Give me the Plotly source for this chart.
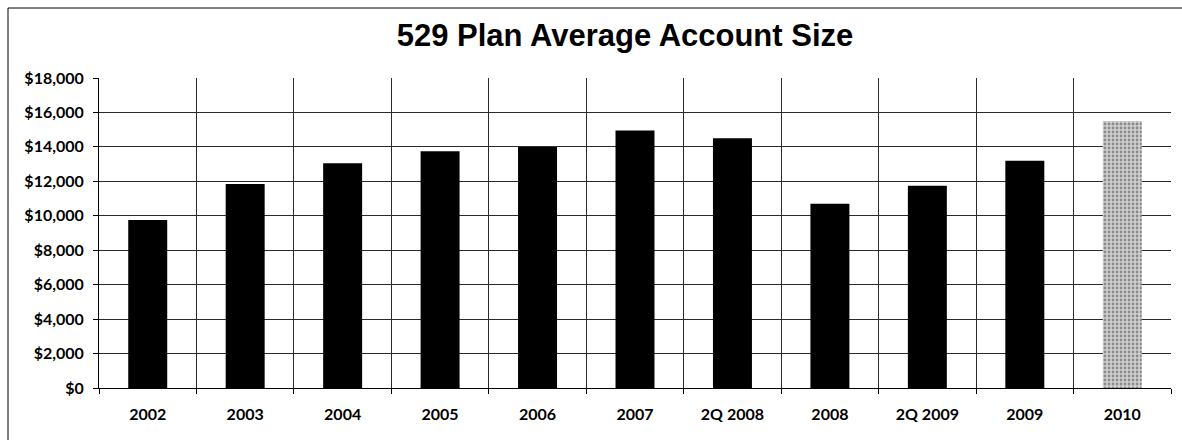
import plotly.graph_objects as go

# Average 529 plan account size by period
periods = ["2002", "2003", "2004", "2005", "2006", "2007",
           "2Q 2008", "2008", "2Q 2009", "2009", "2010"]
avg_account_size = [9750, 11850, 13050, 13750, 14000, 14950,
                    14500, 10700, 11750, 13200, 15500]
# last period is a projection, drawn with a stippled fill
is_projection = [False] * 10 + [True]

y_ticks = [0, 2000, 4000, 6000, 8000, 10000, 12000, 14000, 16000, 18000]
y_tick_labels = ["$0", "$2,000", "$4,000", "$6,000", "$8,000", "$10,000",
                 "$12,000", "$14,000", "$16,000", "$18,000"]

W, H = 1182, 440
ML, MR, MT, MB = 99, 11, 78, 52

bar_colors = ["#d0d0d0" if p else "black" for p in is_projection]
pattern_shapes = ["." if p else "" for p in is_projection]

fig = go.Figure(
    go.Bar(
        x=periods,
        y=avg_account_size,
        width=0.4,
        marker=dict(
            color=bar_colors,
            line=dict(width=0),
            pattern=dict(
                shape=pattern_shapes,
                fgcolor="#444444",
                bgcolor="#dcdcdc",
                size=4,
                solidity=0.4,
                fillmode="overlay",
            ),
        ),
        hoverinfo="x+y",
    )
)

plot_w = W - ML - MR
plot_h = H - MT - MB


def px_to_paper_x(px):
    return (px - ML) / plot_w


def px_to_paper_y(py):
    return (H - MB - py) / plot_h


x_tick_font = dict(family="Lato", size=16, color="black", weight="bold")
y_tick_font = dict(family="Lato", size=16, color="black", weight="bold")

fig.update_layout(
    width=W,
    height=H,
    autosize=False,
    margin=dict(l=ML, r=MR, t=MT, b=MB),
    paper_bgcolor="white",
    plot_bgcolor="white",
    showlegend=False,
    title=dict(
        text="529 Plan Average Account Size",
        font=dict(family="Liberation Sans", size=31, color="black", weight="bold"),
        x=625 / W,
        xanchor="center",
        xref="container",
        y=1 - 35 / H,
        yref="container",
        yanchor="middle",
    ),
    xaxis=dict(
        type="category",
        tickson="boundaries",
        showgrid=True,
        gridcolor="#2a2a2a",
        gridwidth=1,
        showline=True,
        linecolor="black",
        linewidth=1,
        ticks="outside",
        ticklen=5,
        tickcolor="black",
        ticklabelstandoff=12,
        tickfont=x_tick_font,
        mirror=False,
    ),
    yaxis=dict(
        range=[0, 18000],
        tickmode="array",
        tickvals=y_ticks,
        ticktext=y_tick_labels,
        showgrid=True,
        gridcolor="#2a2a2a",
        gridwidth=1,
        zeroline=False,
        showline=True,
        linecolor="black",
        linewidth=1,
        ticks="outside",
        ticklen=5,
        tickcolor="black",
        ticklabelstandoff=6,
        tickfont=y_tick_font,
    ),
    shapes=[
        # chart frame around the whole figure
        dict(
            type="rect",
            xref="paper",
            yref="paper",
            x0=px_to_paper_x(8),
            x1=px_to_paper_x(1195),
            y0=px_to_paper_y(450),
            y1=px_to_paper_y(8),
            line=dict(color="black", width=1),
            fillcolor="rgba(0,0,0,0)",
            layer="below",
        )
    ],
)

fig.write_html("out.html")
